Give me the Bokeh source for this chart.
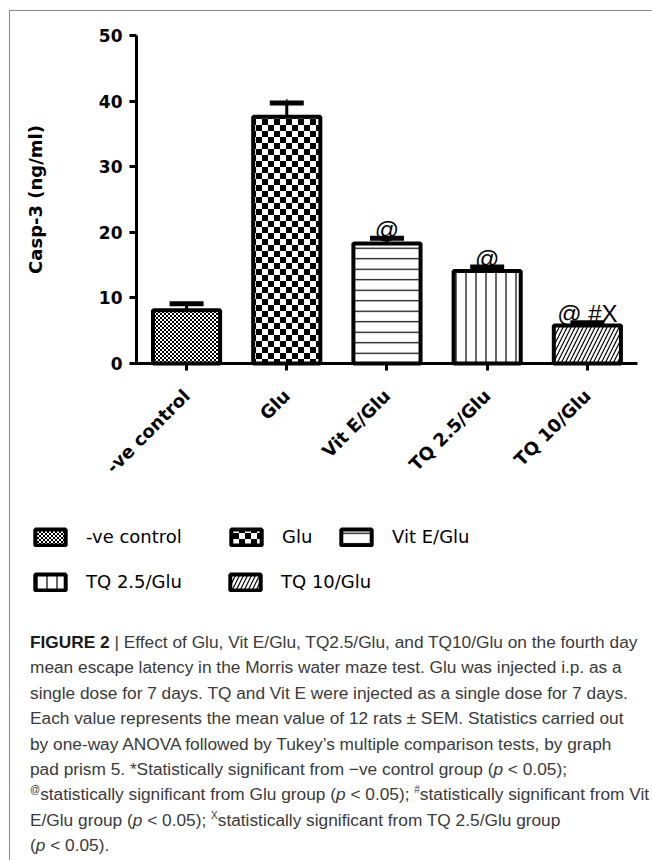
import math
import base64
from bokeh.plotting import figure
from bokeh.models import (ColumnDataSource, Range1d, FixedTicker, Whisker, TeeHead,
                          Legend, LegendItem, Div, ImageURLTexture)
from bokeh.layouts import column
from bokeh.core.properties import value
from bokeh.embed import file_html
from bokeh.resources import INLINE

# ---------------- data ----------------
groups = ["-ve control", "Glu", "Vit E/Glu", "TQ 2.5/Glu", "TQ 10/Glu"]
casp3 = [8.1, 37.6, 18.3, 14.1, 5.8]
sem = [1.0, 2.1, 0.8, 0.6, 0.4]
marks = ["", "*", "@", "@", "@ #X"]
y_ticks = [0, 10, 20, 30, 40, 50]
y_label = "Casp-3 (ng/ml)"

# ---------------- styles ----------------
def checker_url(tile):
    h = tile // 2
    svg = ('<svg xmlns="http://www.w3.org/2000/svg" width="%d" height="%d">'
           '<rect width="%d" height="%d" fill="white"/>'
           '<rect x="0" y="0" width="%d" height="%d" fill="black"/>'
           '<rect x="%d" y="%d" width="%d" height="%d" fill="black"/></svg>'
           % (tile, tile, tile, tile, h, h, h, h, h, h))
    return "data:image/svg+xml;base64," + base64.b64encode(svg.encode()).decode()

textures = {"fine_checker": ImageURLTexture(url=checker_url(4)),
            "checker": ImageURLTexture(url=checker_url(12))}
bar_hatch = ["fine_checker", "checker", "horizontal_line", "vertical_line", "right_diagonal_line"]
bar_hatch_scale = [4, 12, 10.5, 10, 8]
mark_size = ["24px", "18px", "24px", "24px", "24px"]
mark_dy = [-9, 3, -9, -9, -9]
bar_style = dict(fill_color="white", line_color="black", line_width=4,
                 hatch_weight=1.2, hatch_color="black", hatch_extra=textures)

xs = list(range(len(groups)))
src = ColumnDataSource(dict(
    x=xs, group=groups, casp3=casp3, sem=sem,
    upper=[c + s for c, s in zip(casp3, sem)],
    marks=marks, pat=bar_hatch, hscale=bar_hatch_scale,
    msize=mark_size, mdy=mark_dy,
))

# ---------------- figure ----------------
# the frame covers the whole canvas; axes are pinned inside it (fixed_location)
p = figure(x_range=Range1d(-1.757, 4.59), y_range=Range1d(-39.94, 53.66),
           width=636, height=614, output_backend="svg", toolbar_location=None,
           min_border=0, min_border_left=0, min_border_right=0, min_border_top=0, min_border_bottom=0,
           outline_line_color=None, background_fill_color="white", border_fill_color="white")
p.xgrid.visible = False
p.ygrid.visible = False

bars = p.vbar(x="x", top="casp3", width=0.67, source=src,
              hatch_pattern="pat", hatch_scale="hscale", **bar_style)

wh = Whisker(source=src, base="x", upper="upper", lower="casp3", dimension="height",
             line_color="black", line_width=3, lower_head=None,
             upper_head=TeeHead(size=34, line_width=5, line_color="black"))
p.add_layout(wh)

p.text(x="x", y="upper", text="marks", source=src, text_align="center",
       text_baseline="alphabetic", text_font=value("Liberation Sans"),
       text_font_size="msize", y_offset="mdy", text_color="black", level="overlay")

xa = p.xaxis[0]
ya = p.yaxis[0]
ya.ticker = FixedTicker(ticks=y_ticks)
ya.fixed_location = -0.5
ya.bounds = (y_ticks[0], y_ticks[-1])
xa.ticker = FixedTicker(ticks=xs)
xa.major_label_overrides = {x: g for x, g in zip(xs, groups)}
xa.fixed_location = 0
xa.bounds = (-0.56, len(groups) - 0.5)

for ax in (xa, ya):
    ax.axis_line_width = 3
    ax.axis_line_color = "black"
    ax.major_tick_line_width = 3
    ax.major_tick_line_color = "black"
    ax.major_tick_out = 7
    ax.major_tick_in = 0
    ax.minor_tick_out = 0
    ax.minor_tick_in = 0
    ax.major_label_text_font = "DejaVu Sans"
    ax.major_label_text_font_style = "bold"
    ax.major_label_text_color = "black"

ya.major_label_text_font_size = "17px"
ya.major_label_standoff = 7
ya.axis_label = y_label
ya.axis_label_text_font = "DejaVu Sans"
ya.axis_label_text_font_style = "bold"
ya.axis_label_text_font_size = "18px"
ya.axis_label_text_color = "black"
ya.axis_label_standoff = 50

xa.major_label_orientation = math.pi / 4
xa.major_label_text_font_size = "18px"
xa.major_label_standoff = 22

# ---------------- legend (two rows, single-item legends) ----------------
leg_pos = [(21, 78), (217, 78), (327, 78), (21, 33), (216, 33)]
for i, (lx, ly) in enumerate(leg_pos):
    lg = Legend(items=[LegendItem(label=groups[i], renderers=[bars], index=i)],
                location=(lx, ly), orientation="horizontal",
                glyph_width=38, glyph_height=20, label_height=20, label_standoff=17,
                padding=0, margin=0, spacing=0, border_line_color=None,
                background_fill_alpha=0, label_text_font="DejaVu Sans",
                label_text_font_size="18px", label_text_color="black")
    p.add_layout(lg)

# ---------------- caption ----------------
sup = '<span style="font-size:10px; line-height:0; position:relative; top:-7px;">%s</span>'
caption_html = (
    '<div style="font-family:\'Liberation Sans\', Arial, sans-serif; font-size:17.3px; '
    'line-height:25.4px; color:#3a3a3a; padding:0 0 0 15px; white-space:nowrap;">'
    '<b style="color:#1a1a1a">FIGURE 2</b> | Effect of Glu, Vit E/Glu, TQ2.5/Glu, and TQ10/Glu on the fourth day<br>'
    'mean escape latency in the Morris water maze test. Glu was injected i.p. as a<br>'
    'single dose for 7 days. TQ and Vit E were injected as a single dose for 7 days.<br>'
    'Each value represents the mean value of 12 rats &plusmn; SEM. Statistics carried out<br>'
    'by one-way ANOVA followed by Tukey&rsquo;s multiple comparison tests, by graph<br>'
    'pad prism 5. *Statistically significant from &minus;ve control group (<i>p</i> &lt; 0.05);<br>'
    + (sup % '@') + 'statistically significant from Glu group (<i>p</i> &lt; 0.05); '
    + (sup % '#') + 'statistically significant from Vit<br>'
    'E/Glu group (<i>p</i> &lt; 0.05); ' + (sup % 'X') + 'statistically significant from TQ 2.5/Glu group<br>'
    '(<i>p</i> &lt; 0.05).'
    '</div>'
)
cap = Div(text=caption_html, width=636, height=235, styles={"overflow": "hidden"})

layout = column(p, cap, spacing=0,
                styles={"border-left": "1px solid #8c8c8c", "border-top": "1px solid #8c8c8c",
                        "margin-left": "9px", "margin-top": "10px"})

open("out.html", "w").write(file_html(layout, INLINE))
